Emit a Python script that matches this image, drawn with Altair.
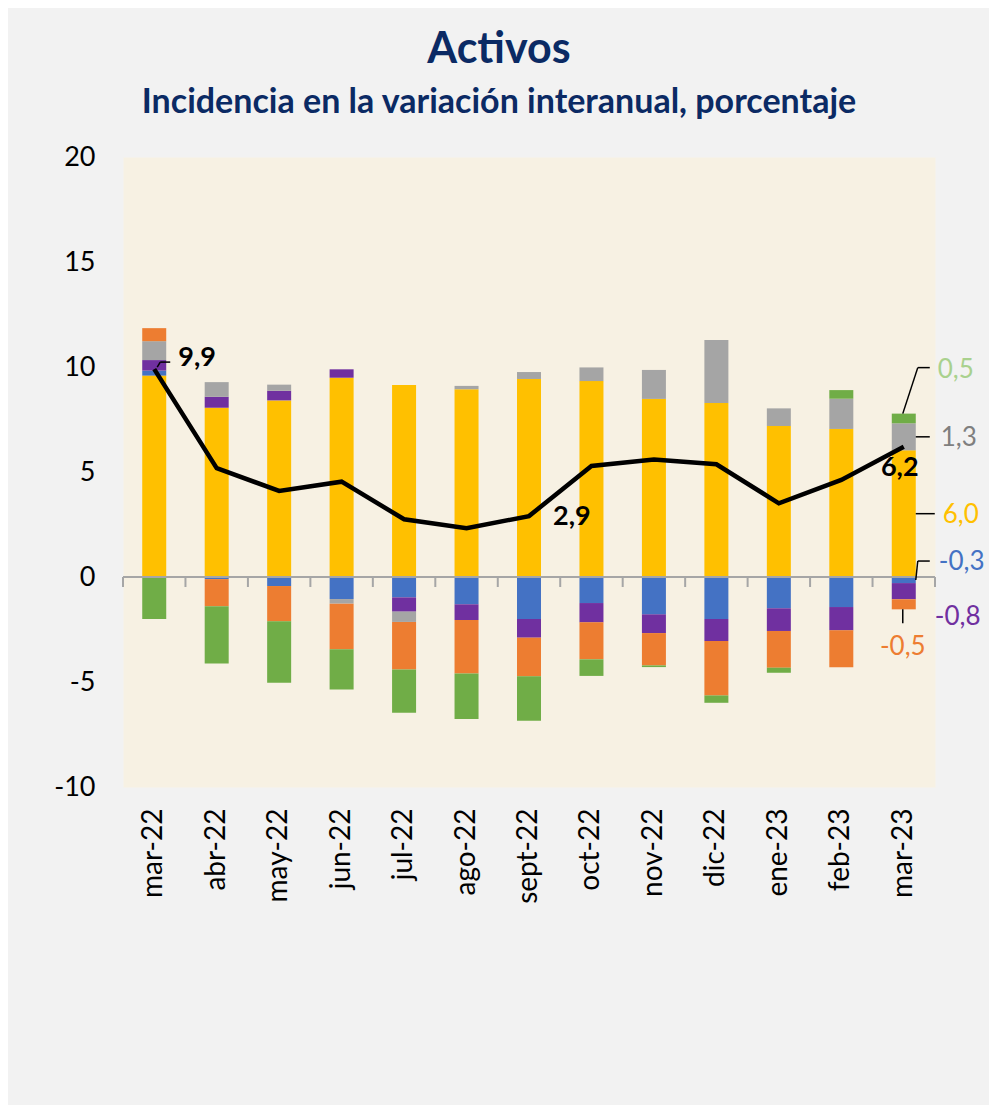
import altair as alt
import pandas as pd

# ---------------- data ----------------
months = ["mar-22", "abr-22", "may-22", "jun-22", "jul-22", "ago-22", "sept-22",
          "oct-22", "nov-22", "dic-22", "ene-23", "feb-23", "mar-23"]

series_names = ["Componente 1", "Componente 2", "Componente 3",
                "Componente 4", "Componente 5", "Componente 6"]
series_colors = ["#FFC000", "#4472C4", "#7030A0", "#A5A5A5", "#ED7D31", "#70AD47"]

s_yellow = [9.59, 8.06, 8.41, 9.49, 9.14, 8.94, 9.43, 9.33, 8.48, 8.29, 7.19, 7.05, 6.03]
s_blue   = [0.24, -0.10, -0.43, -1.05, -0.97, -1.30, -2.00, -1.24, -1.78, -2.00, -1.49, -1.43, -0.29]
s_purple = [0.50, 0.52, 0.46, 0.40, -0.68, -0.75, -0.89, -0.92, -0.89, -1.05, -1.08, -1.11, -0.77]
s_grey   = [0.90, 0.70, 0.29, -0.22, -0.49, 0.16, 0.33, 0.65, 1.38, 3.00, 0.84, 1.44, 1.29]
s_orange = [0.62, -1.29, -1.68, -2.17, -2.27, -2.54, -1.84, -1.76, -1.54, -2.59, -1.75, -1.76, -0.48]
s_green  = [-2.00, -2.73, -2.93, -1.92, -2.06, -2.17, -2.11, -0.79, -0.08, -0.35, -0.24, 0.41, 0.46]

total = [9.9, 5.18, 4.1, 4.54, 2.75, 2.32, 2.9, 5.29, 5.6, 5.37, 3.51, 4.62, 6.2]

series_values = [s_yellow, s_blue, s_purple, s_grey, s_orange, s_green]

y_ticks = [-10, -5, 0, 5, 10, 15, 20]

FONT = "Lato"
NAVY = "#0b2a64"


def fmt(v):
    return f"{v:.1f}".replace(".", ",")


# ---------------- tables ----------------
rows = []
for k, (name, vals) in enumerate(zip(series_names, series_values)):
    for m, v in zip(months, vals):
        rows.append({"mes": m, "serie": name, "orden": k, "valor": v})
bars_df = pd.DataFrame(rows)
line_df = pd.DataFrame({"mes": months, "total": total})

x_scale = alt.Scale(domain=months, paddingInner=0, paddingOuter=0)
y_scale = alt.Scale(domain=[-10, 20], nice=False, zero=False)

bars = alt.Chart(bars_df).mark_bar(size=24).encode(
    x=alt.X("mes:N", scale=x_scale, sort=months,
            axis=alt.Axis(title=None, labelAngle=-90, labelAlign="right",
                          labelBaseline="middle", labelPadding=21,
                          labelFontSize=28, labelFont=FONT, labelColor="#000000",
                          domain=False, ticks=False)),
    y=alt.Y("valor:Q", scale=y_scale, stack="zero",
            axis=alt.Axis(title=None, values=y_ticks, grid=False, domain=False,
                          ticks=False, labelPadding=28, labelFontSize=27,
                          labelFont=FONT, labelColor="#000000",
                          labelExpr="'' + datum.value")),
    color=alt.Color("serie:N", scale=alt.Scale(domain=series_names, range=series_colors),
                    legend=None),
    order=alt.Order("orden:Q", sort="ascending"),
)

zero_df = pd.DataFrame({"mes": months})
zero_line = alt.Chart(zero_df).mark_rule(color="#A6A6A6", strokeWidth=2).encode(
    y=alt.datum(0, scale=y_scale))
ticks_left = alt.Chart(zero_df).mark_rule(color="#A6A6A6", strokeWidth=2, y2Offset=10).encode(
    x=alt.X("mes:N", bandPosition=0),
    y=alt.datum(0), y2=alt.datum(0))
ticks_right = alt.Chart(zero_df[zero_df["mes"] == months[-1]]).mark_rule(
    color="#A6A6A6", strokeWidth=2, y2Offset=10).encode(
    x=alt.X("mes:N", bandPosition=1),
    y=alt.datum(0), y2=alt.datum(0))

line = alt.Chart(line_df).mark_line(color="#000000", strokeWidth=4.5).encode(
    x=alt.X("mes:N"), y=alt.Y("total:Q"))

layers = [bars, zero_line, ticks_left, ticks_right, line]

one = pd.DataFrame({"k": [0]})

# ---------- line labels ----------
line_labels = [  # (month index, dx, dy, align)
    (0, 24, -11, "left"),
    (6, 24, 1, "left"),
    (12, -4, 21, "center"),
]
for i, dx, dy, al in line_labels:
    layers.append(
        alt.Chart(one).mark_text(font=FONT, fontSize=27, fontWeight="bold", color="#000000",
                                 align=al, baseline="middle", dx=dx, dy=dy).encode(
            x=alt.datum(months[i]), y=alt.datum(total[i]), text=alt.value(fmt(total[i]))))

# ---------- last-month component labels ----------
last = len(months) - 1
pos_cum = 0.0
neg_cum = 0.0
mids, tops, bottoms = [], [], []
for vals in series_values:
    v = vals[last]
    if v >= 0:
        lo, hi = pos_cum, pos_cum + v
        pos_cum = hi
    else:
        hi, lo = neg_cum, neg_cum + v
        neg_cum = lo
    mids.append((lo + hi) / 2)
    tops.append(hi)
    bottoms.append(lo)

label_colors = ["#FFC000", "#4472C4", "#7030A0", "#7F7F7F", "#ED7D31", "#A9D18E"]
# (series index, anchor value, dx, dy, align)
comp_labels = [
    (5, tops[5], 34, -44, "left"),
    (3, mids[3], 37, 1, "left"),
    (0, mids[0], 39, 1, "left"),
    (1, mids[1], 35, -18, "left"),
    (2, mids[2], 31, 26, "left"),
    (4, bottoms[4], -1, 38, "center"),
]
for k, anchor, dx, dy, al in comp_labels:
    layers.append(
        alt.Chart(one).mark_text(font=FONT, fontSize=26, color=label_colors[k],
                                 align=al, baseline="middle", dx=dx, dy=dy).encode(
            x=alt.datum(months[last]), y=alt.datum(anchor),
            text=alt.value(fmt(series_values[k][last]))))

# ---------- leader lines: (month idx, anchor, dx1, dy1, dx2, dy2) ----------
leaders = [
    (last, tops[5], -1, 0, 14, -46),
    (last, tops[5], 14, -46, 26, -46),
    (last, mids[3], 12, 0, 26, 0),
    (last, mids[0], 12, 0, 31, 0),
    (last, mids[1], 12, 0, 14, -19),
    (last, mids[1], 14, -19, 26, -19),
    (last, bottoms[4], -1, 0, -1, 14),
    (0, total[0], 3, -2, 6, -7),
    (0, total[0], 6, -7, 16, -7),
]
for i, anchor, dx1, dy1, dx2, dy2 in leaders:
    layers.append(
        alt.Chart(one).mark_rule(color="#000000", strokeWidth=1.5,
                                 xOffset=dx1, yOffset=dy1, x2Offset=dx2, y2Offset=dy2).encode(
            x=alt.datum(months[i]), x2=alt.datum(months[i]),
            y=alt.datum(anchor), y2=alt.datum(anchor)))

chart = alt.layer(*layers).properties(
    width=812, height=630,
    padding={"left": 115, "top": 149, "right": 54, "bottom": 318},
    autosize=alt.AutoSizeParams(type="none"),
    background="#F2F2F2",
    title=alt.TitleParams(
        text="Activos",
        subtitle="Incidencia en la variación interanual, porcentaje",
        anchor="middle", frame="group", dx=-30, offset=23,
        font=FONT, fontSize=43, fontWeight="bold", color=NAVY,
        subtitleFont=FONT, subtitleFontSize=34, subtitleFontWeight="bold",
        subtitleColor=NAVY, subtitlePadding=14),
).configure_view(fill="#F7F1E3", stroke="transparent")

chart.save("out.html", embed_options={"renderer": "svg", "actions": False})
